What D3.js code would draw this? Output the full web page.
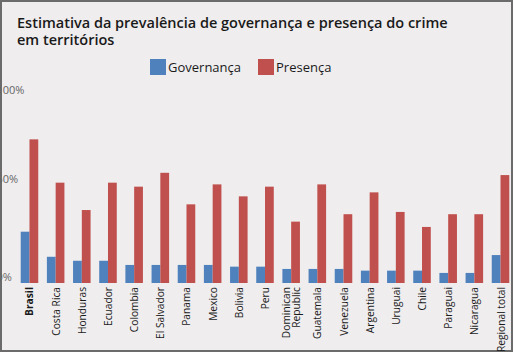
<!DOCTYPE html>
<html><head><meta charset="utf-8">
<script src="https://cdn.jsdelivr.net/npm/d3@7"></script>
<style>html,body{margin:0;padding:0;background:#fff}svg{display:block}</style>
</head><body>
<script>
const categories = ["Brasil","Costa Rica","Honduras","Ecuador","Colombia","El Salvador","Panama","Mexico","Bolivia","Peru","Dominican Republic","Guatemala","Venezuela","Argentina","Uruguai","Chile","Paraguai","Nicaragua","Regional total"];
const governanca = [27,13.8,11.7,11.7,9.5,9.5,9.5,9.5,8.6,8.6,7.4,7.4,7.4,6.5,6.5,6.5,5.3,5.3,14.7];
const presenca = [75.6,52.8,38.4,52.8,50.7,58,41.4,51.9,45.6,50.7,32.3,51.9,36.2,47.7,37.4,29.5,36.2,36.2,56.8];
const seriesNames = ["Governança","Presença"];
const yTicks = [0,50,100];
const titleLines = ["Estimativa da prevalência de governança e presença do crime","em territórios"];
const colors = ["#4f81bd","#c0504d"];

const W=513,H=355;
const svg=d3.select("body").append("svg").attr("width",W).attr("height",H);
svg.append("rect").attr("x",1).attr("y",1).attr("width",511).attr("height",350)
  .attr("fill","#efedee").attr("stroke","#6b6b6b").attr("stroke-width",2);

const font="'Open Sans', sans-serif";
svg.append("g").selectAll("text").data(titleLines).join("text")
  .attr("x",17).attr("y",(d,i)=>28+i*17)
  .attr("font-family",font).attr("font-weight",600).attr("font-size",14.5)
  .attr("fill","#1a1a1a").text(d=>d);

const y=d3.scaleLinear().domain([0,100]).range([283,93]);
const x=d3.scaleBand().domain(categories).range([16.4,513.6]).paddingInner(0.33).paddingOuter(0.165);
const xs=d3.scaleBand().domain([0,1]).range([0,x.bandwidth()]);

const data=categories.map((c,i)=>({c,v:[governanca[i],presenca[i]]}));
const g=svg.append("g").selectAll("g").data(data).join("g").attr("transform",d=>`translate(${x(d.c)},0)`);
g.selectAll("rect").data(d=>d.v.map((v,k)=>({v,k}))).join("rect")
  .attr("x",d=>xs(d.k)).attr("width",xs.bandwidth())
  .attr("y",d=>y(d.v)).attr("height",d=>y(0)-y(d.v)).attr("fill",d=>colors[d.k]);

// y axis labels
const ya=svg.append("g").call(d3.axisLeft(y).tickValues(yTicks).tickFormat(d=>d+"%").tickSize(0));
ya.select(".domain").remove();
ya.selectAll("text").attr("x",-3.5).attr("dy",d=>d===100?0:d===50?-6:-3).attr("text-anchor","start")
  .attr("font-family",font).attr("font-size",11).attr("fill","#666");

// x labels
const xa=svg.append("g").attr("transform",`translate(0,${y(0)})`).call(d3.axisBottom(x).tickSize(0));
xa.select(".domain").remove();
xa.selectAll("text").each(function(d){
  const t=d3.select(this);
  t.text(null).attr("transform","rotate(-90)").attr("x",-4).attr("y",0).attr("dy",null)
   .attr("text-anchor","end").attr("font-family",font).attr("font-size",10.2).attr("fill","#1a1a1a")
   .attr("font-weight",d==="Brasil"?700:400);
  const lines=d==="Dominican Republic"?["Dominican","Republic"]:[d];
  lines.forEach((l,i)=>{
    t.append("tspan").attr("x",-4).attr("y",(i-(lines.length-1)/2)*10.5+4).text(l);
  });
});

// legend
const lg=svg.append("g").selectAll("g").data(seriesNames).join("g")
  .attr("transform",(d,i)=>`translate(${[150,258][i]},59)`);
lg.append("rect").attr("width",16).attr("height",16).attr("fill",(d,i)=>colors[i]);
lg.append("text").attr("x",18).attr("y",13).attr("font-family",font).attr("font-size",13).attr("fill","#1a1a1a").text(d=>d);
</script>
</body></html>
